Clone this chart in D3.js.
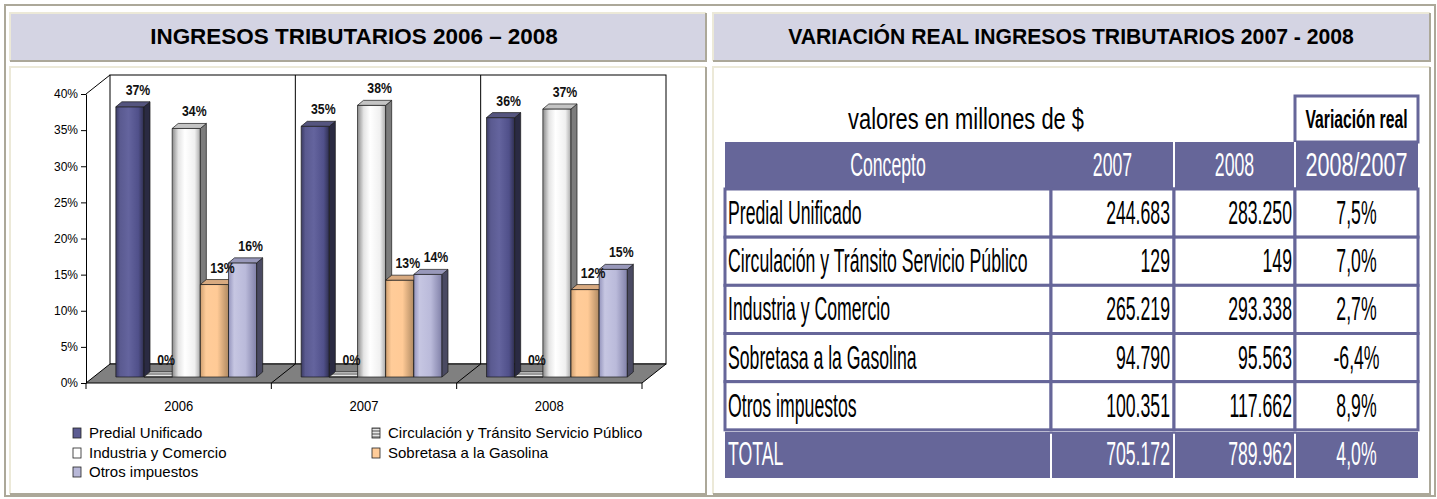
<!DOCTYPE html>
<html><head><meta charset="utf-8">
<script src="https://cdn.jsdelivr.net/npm/d3@7"></script>
<style>
html,body{margin:0;padding:0;background:#fff;}
svg{display:block;}
text{font-family:"Liberation Sans",Arial,sans-serif;}
</style></head><body>
<svg id="c" width="1437" height="499"></svg>
<script>
// ---------------- DATA ----------------
const years = ["2006", "2007", "2008"];
const seriesNames = ["Predial Unificado", "Circulación y Tránsito Servicio Público", "Industria y Comercio", "Sobretasa a la Gasolina", "Otros impuestos"];
const share2006 = [37.4, 0.02, 34.4, 12.8, 15.8];
const share2007 = [34.7, 0.02, 37.6, 13.4, 14.2];
const share2008 = [35.9, 0.02, 37.1, 12.1, 14.9];
const yTickValues = [0, 5, 10, 15, 20, 25, 30, 35, 40];

const chartTitle = "INGRESOS TRIBUTARIOS 2006 – 2008";
const tableTitle = "VARIACIÓN REAL INGRESOS TRIBUTARIOS 2007 - 2008";
const unitsNote = "valores en millones de $";
const variationNote = "Variación real";
const tableHeaders = ["Concepto", "2007", "2008", "2008/2007"];
const tableConcepts = ["Predial Unificado", "Circulación y Tránsito Servicio Público", "Industria y Comercio", "Sobretasa a la Gasolina", "Otros impuestos", "TOTAL"];
const values2007 = [244683, 129, 265219, 94790, 100351, 705172];
const values2008 = [283250, 149, 293338, 95563, 117662, 789962];
const realVariation = [7.5, 7.0, 2.7, -6.4, 8.9, 4.0];

// ---------------- STYLE ----------------
const PURPLE = "#666699";
const seriesStyle = [
  {grad: [[0,"#3c3c64"],[0.15,"#5a5a90"],[0.45,"#64649e"],[0.8,"#50508a"],[1,"#2e2e4e"]], side: "#2a2a42", top: "#55557f", legend: "#5c5c92"},
  {grad: [[0,"#a0a0a0"],[1,"#a0a0a0"]], side: "#707070", top: "url(#stripes)", legend: "url(#stripes)"},
  {grad: [[0,"#8a8a8a"],[0.22,"#e4e4e4"],[0.45,"#ffffff"],[0.8,"#f0f0f0"],[1,"#a8a8a8"]], side: "#7c7c7c", top: "#c4c4c4", legend: "#ffffff"},
  {grad: [[0,"#d0a070"],[0.2,"#ffcc99"],[0.6,"#ffca96"],[1,"#b08a62"]], side: "#8a6a48", top: "#d8aa80", legend: "#ffcc99"},
  {grad: [[0,"#9494bc"],[0.2,"#c6c6e2"],[0.6,"#babada"],[1,"#8080a8"]], side: "#4a4a62", top: "#9898ba", legend: "#b8b8d8"}
];

const svg = d3.select("#c");
const defs = svg.append("defs");
seriesStyle.forEach((s, i) => {
  const g = defs.append("linearGradient").attr("id", "g" + i).attr("x1", "0").attr("x2", "1").attr("y1", "0").attr("y2", "0");
  s.grad.forEach(([o, c]) => g.append("stop").attr("offset", o).attr("stop-color", c));
});
const pat = defs.append("pattern").attr("id", "stripes").attr("patternUnits", "userSpaceOnUse").attr("width", 4).attr("height", 3);
pat.append("rect").attr("width", 4).attr("height", 3).attr("fill", "#9a9a9a");
pat.append("rect").attr("width", 4).attr("height", 1).attr("fill", "#e6e6e6");

// helper for condensed text: either a fixed horizontal scale (sx) or a fitted width (len)
function txt(parent, x, y, str, o) {
  const g = parent.append("g");
  const t = g.append("text").text(str)
    .attr("font-size", o.size).attr("text-anchor", o.anchor || "start")
    .attr("fill", o.fill || "#000").attr("font-weight", o.weight || "normal");
  let sx = o.sx || 1;
  if (o.len) sx = o.len / t.node().getComputedTextLength();
  g.attr("transform", `translate(${x},${y}) scale(${sx},1)`);
  return t;
}

// ---------------- FRAME ----------------
svg.append("rect").attr("x", 5).attr("y", 5).attr("width", 1430).attr("height", 491)
  .attr("fill", "none").attr("stroke", "#aca899").attr("stroke-width", 2);
function cell(x0, y0, x1, y1, fill) {
  svg.append("rect").attr("x", x0).attr("y", y0).attr("width", x1 - x0).attr("height", y1 - y0).attr("fill", fill);
  svg.append("path").attr("d", `M${x0},${y1}V${y0}H${x1}`).attr("fill", "none").attr("stroke", "#ece9d8").attr("stroke-width", 2);
  svg.append("path").attr("d", `M${x1},${y0}V${y1}H${x0}`).attr("fill", "none").attr("stroke", "#aca899").attr("stroke-width", 2);
}
cell(10, 13, 706, 61, "#d4d4e3");
cell(713, 13, 1430, 61, "#d4d4e3");
cell(10, 67, 706, 494, "#ffffff");
cell(713, 67, 1430, 494, "#ffffff");
txt(svg, 354, 44, chartTitle, {size: 22, anchor: "middle", weight: "bold", len: 408});
txt(svg, 1071, 44, tableTitle, {size: 22, anchor: "middle", weight: "bold", len: 566});

// ---------------- 3D BAR CHART ----------------
const shares = [share2006, share2007, share2008];
const yS = d3.scaleLinear().domain([0, 40]).range([383, 94]);
const xG = d3.scaleBand().domain(years).range([86, 642]).padding(0);
const xB = d3.scaleBand().domain(d3.range(seriesNames.length)).range([0, xG.bandwidth()]).paddingInner(0).paddingOuter(0.79);
const DX = 24, DY = -19;      // floor / wall depth
const OX = 7.6, OY = -6;      // bar placement depth
const BX = 6, BY = -5;        // bar depth
const y0 = yS(0), yTop = yS(40), xL = xG.range()[0], xR = xG.range()[1];
const ch = svg.append("g");

// back wall
ch.append("rect").attr("x", xL + DX).attr("y", yTop + DY).attr("width", xR - xL).attr("height", y0 - yTop)
  .attr("fill", "#fff").attr("stroke", "#000").attr("stroke-width", 1);
ch.append("line").attr("x1", xL).attr("y1", yTop).attr("x2", xL + DX).attr("y2", yTop + DY).attr("stroke", "#000");
// floor
ch.append("path").attr("d", `M${xL},${y0}H${xR}L${xR + DX},${y0 + DY}H${xL + DX}Z`)
  .attr("fill", "#808080").attr("stroke", "#000").attr("stroke-width", 1);
// category dividers
years.slice(1).forEach(yr => {
  const x = xG(yr);
  ch.append("path").attr("d", `M${x},${y0}L${x + DX},${y0 + DY}V${yTop + DY}`).attr("fill", "none").attr("stroke", "#000");
});
// y axis
const yAx = ch.append("g").attr("transform", `translate(${xL},0)`)
  .call(d3.axisLeft(yS).tickValues(yTickValues).tickFormat(d => d + "%").tickSize(5).tickSizeOuter(0));
yAx.select(".domain").attr("stroke", "#000");
yAx.selectAll(".tick line").attr("stroke", "#000");
yAx.selectAll(".tick text").attr("font-size", 12).attr("fill", "#000").attr("font-family", "Liberation Sans, Arial, sans-serif").attr("x", -8);
// x axis ticks & labels
const xAx = ch.append("g").attr("transform", `translate(0,${y0})`);
xAx.selectAll("line").data(years.concat(["end"])).join("line")
  .attr("x1", d => d === "end" ? xR : xG(d)).attr("x2", d => d === "end" ? xR : xG(d))
  .attr("y1", 0).attr("y2", 6).attr("stroke", "#000");
years.forEach(yr => txt(ch, xG(yr) + xG.bandwidth() / 2, 411, yr, {size: 15, sx: 0.87, anchor: "middle"}));

// bars
years.forEach((yr, gi) => {
  shares[gi].forEach((v, i) => {
    const st = seriesStyle[i];
    const x = xG(yr) + xB(i) + OX, w = xB.bandwidth();
    const yb = yS(0) + OY, yt = yS(v) + OY;
    const b = ch.append("g").attr("stroke", "#1a1a1a").attr("stroke-width", 0.7).attr("stroke-linejoin", "round");
    b.append("rect").attr("x", x).attr("y", yt).attr("width", w).attr("height", yb - yt).attr("fill", `url(#g${i})`);
    b.append("path").attr("d", `M${x + w},${yt}L${x + w + BX},${yt + BY}V${yb + BY}L${x + w},${yb}Z`).attr("fill", st.side);
    b.append("path").attr("d", `M${x},${yt}L${x + BX},${yt + BY}H${x + w + BX}L${x + w},${yt}Z`).attr("fill", st.top);
  });
});
// value labels
years.forEach((yr, gi) => {
  shares[gi].forEach((v, i) => {
    const x = xG(yr) + xB(i) + OX + xB.bandwidth() / 2 + 8;
    const yt = yS(v) + OY;
    txt(ch, x, yt - 12, Math.round(v) + "%", {size: 15, sx: 0.82, anchor: "middle", weight: "bold", fill: "#111"});
  });
});

// legend
const legPos = [[73, 433], [372, 433], [73, 453], [372, 453], [73, 472]];
seriesNames.forEach((n, i) => {
  const [lx, ly] = legPos[i];
  ch.append("rect").attr("x", lx).attr("y", ly - 5).attr("width", 8).attr("height", 10)
    .attr("fill", seriesStyle[i].legend).attr("stroke", "#222").attr("stroke-width", 0.8);
  txt(ch, lx + 16, ly + 5, n, {size: 15, sx: 1.0});
});

// ---------------- TABLE ----------------
const loc = d3.formatLocale({decimal: ",", thousands: ".", grouping: [3], currency: ["$", ""], minus: "-"});
const fmtN = loc.format(",d"), fmtP = loc.format(".1f");
const colEdges = [725, 1051, 1174, 1295, 1418];
const rowS = d3.scaleBand().domain(tableConcepts).range([189, 478]).padding(0);
const tb = svg.append("g");
const TS = 34, TSX = 0.52;

txt(tb, 966, 129, unitsNote, {size: 30, anchor: "middle", len: 236});
tb.append("rect").attr("x", colEdges[3]).attr("y", 96).attr("width", colEdges[4] - colEdges[3]).attr("height", 46)
  .attr("fill", "#fff").attr("stroke", PURPLE).attr("stroke-width", 3);
txt(tb, (colEdges[3] + colEdges[4]) / 2, 128, variationNote, {size: 25, anchor: "middle", weight: "bold", len: 102});

// header row
tb.append("rect").attr("x", colEdges[0]).attr("y", 142).attr("width", colEdges[4] - colEdges[0]).attr("height", 47).attr("fill", PURPLE);
[2, 3].forEach(c => tb.append("line").attr("x1", colEdges[c]).attr("x2", colEdges[c]).attr("y1", 142).attr("y2", 189)
  .attr("stroke", "#fff").attr("stroke-width", 2));
tableHeaders.forEach((h, c) => txt(tb, (colEdges[c] + colEdges[c + 1]) / 2, 176, h,
  c === 3 ? {size: 34, anchor: "middle", fill: "#fff", len: 102} : {size: 34, sx: TSX, anchor: "middle", fill: "#fff"}));

tableConcepts.forEach((name, r) => {
  const y = rowS(name), h = rowS.bandwidth();
  const isTotal = name === "TOTAL";
  const fg = isTotal ? "#fff" : "#000";
  if (isTotal) {
    tb.append("rect").attr("x", colEdges[0]).attr("y", y + 2).attr("width", colEdges[4] - colEdges[0]).attr("height", h - 2).attr("fill", PURPLE);
    [1, 2, 3].forEach(c => tb.append("line").attr("x1", colEdges[c]).attr("x2", colEdges[c]).attr("y1", y + 4).attr("y2", y + h)
      .attr("stroke", "#fff").attr("stroke-width", 2));
  } else {
    for (let c = 0; c < 4; c++) {
      tb.append("rect").attr("x", colEdges[c]).attr("y", y).attr("width", colEdges[c + 1] - colEdges[c]).attr("height", h)
        .attr("fill", "#fff").attr("stroke", PURPLE).attr("stroke-width", 3);
    }
  }
  const by = y + h / 2 + 11;
  txt(tb, colEdges[0] + 3, by, name, {size: TS, sx: TSX, fill: fg});
  txt(tb, colEdges[2] - 4, by, fmtN(values2007[r]), {size: TS, sx: TSX, anchor: "end", fill: fg});
  txt(tb, colEdges[3] - 3, by, fmtN(values2008[r]), {size: TS, sx: TSX, anchor: "end", fill: fg});
  txt(tb, (colEdges[3] + colEdges[4]) / 2, by, fmtP(realVariation[r]) + "%", {size: TS, sx: TSX, anchor: "middle", fill: fg});
});
</script>
</body></html>
